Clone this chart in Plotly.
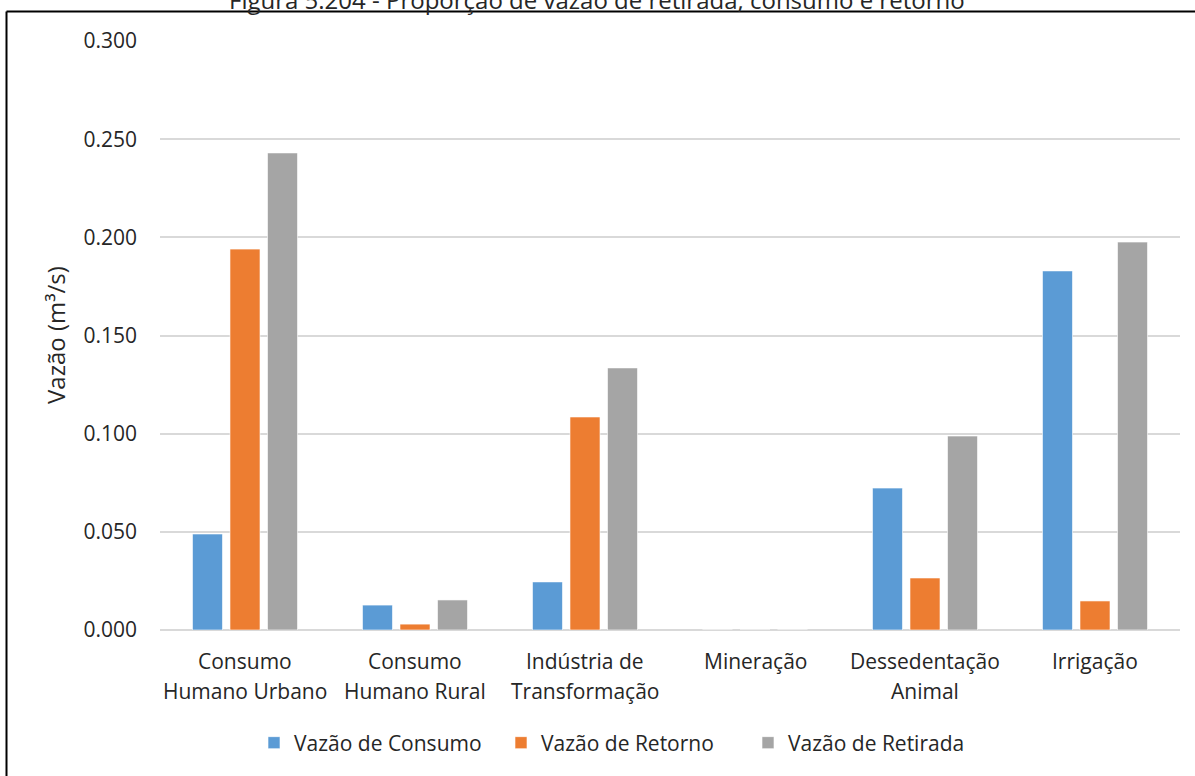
import plotly.graph_objects as go

categories = ["Consumo Humano Urbano", "Consumo Humano Rural", "Indústria de Transformação",
              "Mineração", "Dessedentação Animal", "Irrigação"]
label_line1 = ["Consumo", "Consumo", "Indústria de", "Mineração", "Dessedentação", "Irrigação"]
label_line2 = ["Humano Urbano", "Humano Rural", "Transformação", "", "Animal", ""]

consumo = [0.0489, 0.0127, 0.0245, 0.0, 0.0723, 0.1829]
retorno = [0.1940, 0.0030, 0.1085, 0.0, 0.0265, 0.0148]
retirada = [0.2430, 0.0153, 0.1335, 0.0, 0.0988, 0.1976]

series_names = ["Vazão de Consumo", "Vazão de Retorno", "Vazão de Retirada"]
colors = ["#5B9BD5", "#ED7D31", "#A5A5A5"]

y_ticks = [0, 0.05, 0.10, 0.15, 0.20, 0.25, 0.30]

title_text = "Figura 5.204 - Proporção de vazão de retirada, consumo e retorno"
y_title = "Vazão (m³/s)"

FONT = "Open Sans"
TXT = "#262626"
W, H = 1195, 776
ML, MR, MT, MB = 160, 15, 41, 146
plot_h = H - MT - MB

def py(px):
    # pixel row -> paper y
    return (H - MB - px) / plot_h

def pxx(px):
    return (px - ML) / (W - ML - MR)

fig = go.Figure()
for name, vals, c in zip(series_names, [consumo, retorno, retirada], colors):
    fig.add_trace(go.Bar(x=categories, y=vals, name=name,
                         marker=dict(color=c, line=dict(color="rgba(255,255,255,0.6)", width=1))))

annotations = []
for cat, l1, l2 in zip(categories, label_line1, label_line2):
    annotations.append(dict(x=cat, xref="x", y=py(661), yref="paper", text=l1, showarrow=False,
                            font=dict(family=FONT, size=21, color=TXT),
                            xanchor="center", yanchor="middle"))
    if l2:
        annotations.append(dict(x=cat, xref="x", y=py(691), yref="paper", text=l2, showarrow=False,
                                font=dict(family=FONT, size=21, color=TXT),
                                xanchor="center", yanchor="middle"))

annotations.append(dict(x=pxx(597), xref="paper", y=py(0), yref="paper", text=title_text,
                        showarrow=False, font=dict(family=FONT, size=24, color=TXT),
                        xanchor="center", yanchor="middle"))
annotations.append(dict(x=pxx(55), xref="paper", y=py(335), yref="paper", text=y_title,
                        showarrow=False, textangle=-90, font=dict(family=FONT, size=24, color=TXT),
                        xanchor="center", yanchor="middle"))

# outer frame: only top and left edges are visible in the reference
shapes = [
    dict(type="line", xref="paper", yref="paper", x0=pxx(6.5), x1=pxx(1195),
         y0=py(11.5), y1=py(11.5), line=dict(color="black", width=2), layer="above"),
    dict(type="line", xref="paper", yref="paper", x0=pxx(6.5), x1=pxx(6.5),
         y0=py(11.5), y1=py(776), line=dict(color="black", width=2), layer="above"),
]

fig.update_layout(
    width=W, height=H,
    margin=dict(l=ML, r=MR, t=MT, b=MB),
    plot_bgcolor="white", paper_bgcolor="white",
    barmode="group", bargap=0.338, bargroupgap=0.2,
    font=dict(family=FONT, size=21, color=TXT),
    showlegend=True,
    legend=dict(orientation="h", x=pxx(254), xanchor="left", y=py(743), yanchor="middle",
                font=dict(family=FONT, size=21, color=TXT), itemwidth=30,
                entrywidth=202, entrywidthmode="pixels",
                traceorder="normal", bgcolor="rgba(0,0,0,0)"),
    annotations=annotations,
    shapes=shapes,
    xaxis=dict(showticklabels=False, showgrid=False, showline=False, ticks="", zeroline=False),
    yaxis=dict(range=[0, 0.3], tickvals=y_ticks, tickformat=".3f", showgrid=True,
               gridcolor="#D9D9D9", gridwidth=1.5, zeroline=True, zerolinecolor="#D9D9D9",
               zerolinewidth=1.5, showline=False, ticks="", ticklabelstandoff=22,
               tickfont=dict(family=FONT, size=21, color=TXT)),
)

fig.write_html("out.html", config={"displayModeBar": False},
               post_script="document.body.style.margin='0';document.body.style.overflow='hidden';")
